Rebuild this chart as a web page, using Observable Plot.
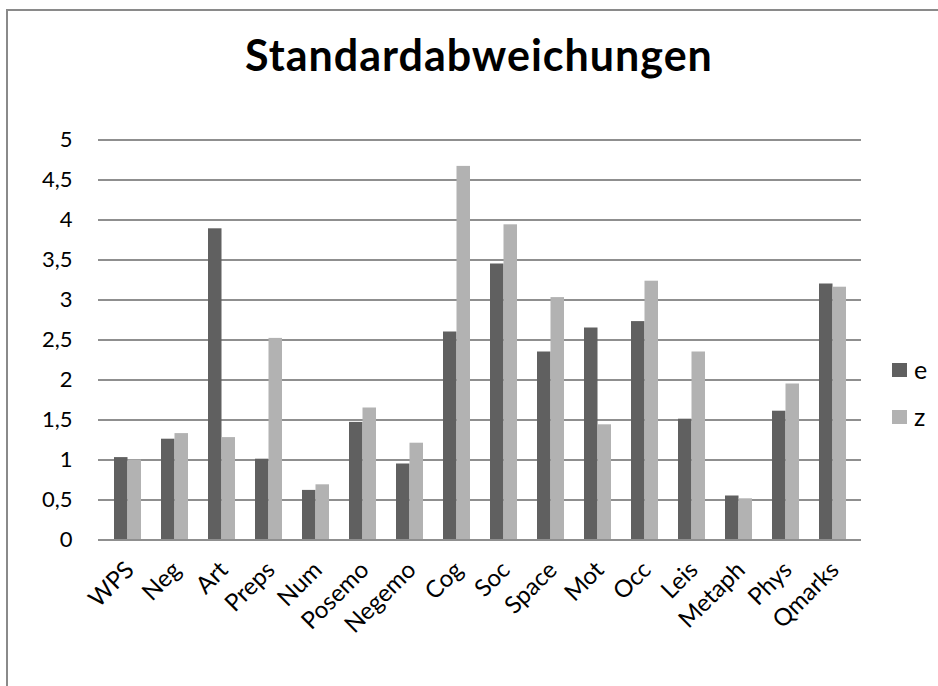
<!DOCTYPE html>
<html>
<head>
<meta charset="utf-8">
<script src="https://cdn.jsdelivr.net/npm/d3@7"></script>
<script src="https://cdn.jsdelivr.net/npm/@observablehq/plot@0.6"></script>
<style>
  html, body { margin: 0; padding: 0; background: #fff; }
  #wrap { position: relative; width: 938px; height: 686px; overflow: hidden; font-family: Lato, "Open Sans", sans-serif; }
  #border { position: absolute; left: 6px; top: 9px; width: 1000px; height: 1000px; border-left: 2px solid #8a8a8a; border-top: 2px solid #8a8a8a; }
  #title { position: absolute; left: 0; width: 958px; top: 33px; text-align: center; font-weight: bold; font-size: 43px; letter-spacing: 1px; color: #000; line-height: 1; }
  #chart { position: absolute; left: 0; top: 0; }
  .leg { position: absolute; left: 892px; font-size: 25px; color: #000; display: flex; align-items: center; line-height: 1; }
  .leg span.sw { display: inline-block; width: 15px; height: 14px; margin-right: 7px; }
</style>
</head>
<body>
<div id="wrap">
  <div id="border"></div>
  <div id="title">Standardabweichungen</div>
  <div id="chart"></div>
  <div id="legend"></div>
</div>
<script>
const categories = ["WPS","Neg","Art","Preps","Num","Posemo","Negemo","Cog","Soc","Space","Mot","Occ","Leis","Metaph","Phys","Qmarks"];
const seriesNames = ["e", "z"];
const eValues = [1.03, 1.26, 3.89, 1.01, 0.62, 1.47, 0.95, 2.60, 3.45, 2.35, 2.65, 2.73, 1.51, 0.55, 1.61, 3.20];
const zValues = [1.00, 1.33, 1.28, 2.52, 0.69, 1.65, 1.21, 4.67, 3.94, 3.03, 1.44, 3.235, 2.35, 0.515, 1.95, 3.16];
const yTicks = [0, 0.5, 1, 1.5, 2, 2.5, 3, 3.5, 4, 4.5, 5];
const colors = {e: "#606060", z: "#b2b2b2"};

const eData = categories.map((c, i) => ({cat: c, v: eValues[i]}));
const zData = categories.map((c, i) => ({cat: c, v: zValues[i]}));

const W = 938, H = 686;
const mL = 98, mR = 77, mT = 139.5, mB = 146.5;
const pInner = 0.434, pOuter = 0.217;
const step = (W - mL - mR) / (categories.length - pInner + 2 * pOuter);
const bw = step * (1 - pInner);

const fmt = d => String(d).replace(".", ",");

const plot = Plot.plot({
  width: W,
  height: H,
  marginLeft: mL,
  marginRight: mR,
  marginTop: mT,
  marginBottom: mB,
  style: {fontFamily: "Lato, 'Open Sans', sans-serif", fontSize: "22px", color: "#000", background: "transparent"},
  x: {domain: categories, paddingInner: pInner, paddingOuter: pOuter, align: 0.5},
  y: {domain: [0, 5], ticks: yTicks},
  marks: [
    Plot.ruleY(yTicks, {stroke: "#8f8f8f", strokeWidth: 2}),
    Plot.barY(eData, {x: "cat", y: "v", fill: colors.e, insetRight: bw / 2}),
    Plot.barY(zData, {x: "cat", y: "v", fill: colors.z, insetLeft: bw / 2}),
    Plot.ruleX([0], {frameAnchor: "left", y1: 0, y2: 5, stroke: "#8f8f8f", strokeWidth: 2}),
    Plot.ruleY([0], {stroke: "#8f8f8f", strokeWidth: 2}),
    Plot.axisY({ticks: yTicks, tickSize: 0, tickPadding: 26, tickFormat: fmt, fontSize: 22, label: null}),
    Plot.axisX({tickSize: 0, tickPadding: 26, tickRotate: -45, fontSize: 24, dx: 2, label: null})
  ]
});
document.getElementById("chart").appendChild(plot);

const legend = document.getElementById("legend");
const legTops = [357, 404];
seriesNames.forEach((s, i) => {
  const div = document.createElement("div");
  div.className = "leg";
  div.style.top = legTops[i] + "px";
  const sw = document.createElement("span");
  sw.className = "sw";
  sw.style.background = colors[s];
  div.appendChild(sw);
  div.appendChild(document.createTextNode(s));
  legend.appendChild(div);
});
</script>
</body>
</html>
